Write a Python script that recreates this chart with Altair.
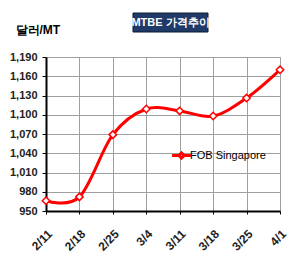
import altair as alt
import pandas as pd

dates = ["2/11", "2/18", "2/25", "3/4", "3/11", "3/18", "3/25", "4/1"]
prices = [966, 972, 1069, 1109, 1106, 1098, 1126, 1170]
series = "FOB Singapore"
y_ticks = [950, 980, 1010, 1040, 1070, 1100, 1130, 1160, 1190]

df = pd.DataFrame({"date": dates, "price": prices, "series": [series] * len(dates)})

FONT = "Liberation Sans"
RED = "#ff0000"

x = alt.X("date:O", sort=dates, scale=alt.Scale(padding=0),
          axis=alt.Axis(title=None, labelAngle=-45, labelAlign="right", labelBaseline="top",
                        labelPadding=14, labelFont=FONT, labelFontSize=12, labelFontWeight="bold",
                        labelColor="#222", grid=True, gridColor="#a0a0a0", domainColor="#000",
                        domainWidth=2, ticks=True, tickColor="#000", tickSize=3))
y = alt.Y("price:Q", scale=alt.Scale(domain=[950, 1190], nice=False, zero=False),
          axis=alt.Axis(values=y_ticks, format=",d", title="달러/MT", titleAngle=0,
                        titleAlign="left", titleBaseline="alphabetic", titleX=-31, titleY=-24,
                        titleFont=FONT, titleFontSize=12, titleFontWeight="bold",
                        labelFont=FONT, labelFontSize=11, labelFontWeight="bold", labelColor="#222",
                        grid=True, gridColor="#a0a0a0", domainColor="#000", domainWidth=2,
                        tickColor="#000", tickSize=4, labelPadding=5))

legend_symbol = "M-1.6,0H-0.45M-0.45,0L0,-0.45L0.45,0L0,0.45ZM0.45,0H1.6"

line = alt.Chart(df).mark_line(interpolate="cardinal", strokeWidth=3).encode(
    x=x, y=y,
    color=alt.Color("series:N", scale=alt.Scale(range=[RED]),
                    legend=alt.Legend(title=None, orient="none", legendX=128, legendY=91,
                                      symbolType=legend_symbol, symbolSize=140,
                                      symbolStrokeWidth=3, symbolFillColor="#fff",
                                      labelFont=FONT, labelFontSize=11, labelColor="#000",
                                      labelOffset=1))
)
points = alt.Chart(df).mark_point(shape="diamond", filled=True, fill="#fff", stroke=RED,
                                  strokeWidth=1.5, size=55, opacity=1).encode(x=x, y=y)

title_box = alt.Chart(pd.DataFrame({"t": ["MTBE 가격추이"]})).mark_rect(
    color="#1f3a68", stroke="#0a1a33").encode(
    x=alt.value(87), x2=alt.value(162), y=alt.value(-44), y2=alt.value(-25))
title_text = alt.Chart(pd.DataFrame({"t": ["MTBE 가격추이"]})).mark_text(
    color="#fff", font=FONT, fontSize=11, fontWeight="bold").encode(
    x=alt.value(124.5), y=alt.value(-34.5), text="t:N")

chart = alt.layer(line, points, title_box, title_text).properties(
    width=234, height=154,
    autosize=alt.AutoSizeParams(type="none"),
    padding={"left": 46, "top": 57, "right": 26, "bottom": 56},
).configure_view(stroke="#a0a0a0", strokeWidth=1).configure(background="#fff")

chart.save("out.html", embed_options={"renderer": "svg", "actions": False})
